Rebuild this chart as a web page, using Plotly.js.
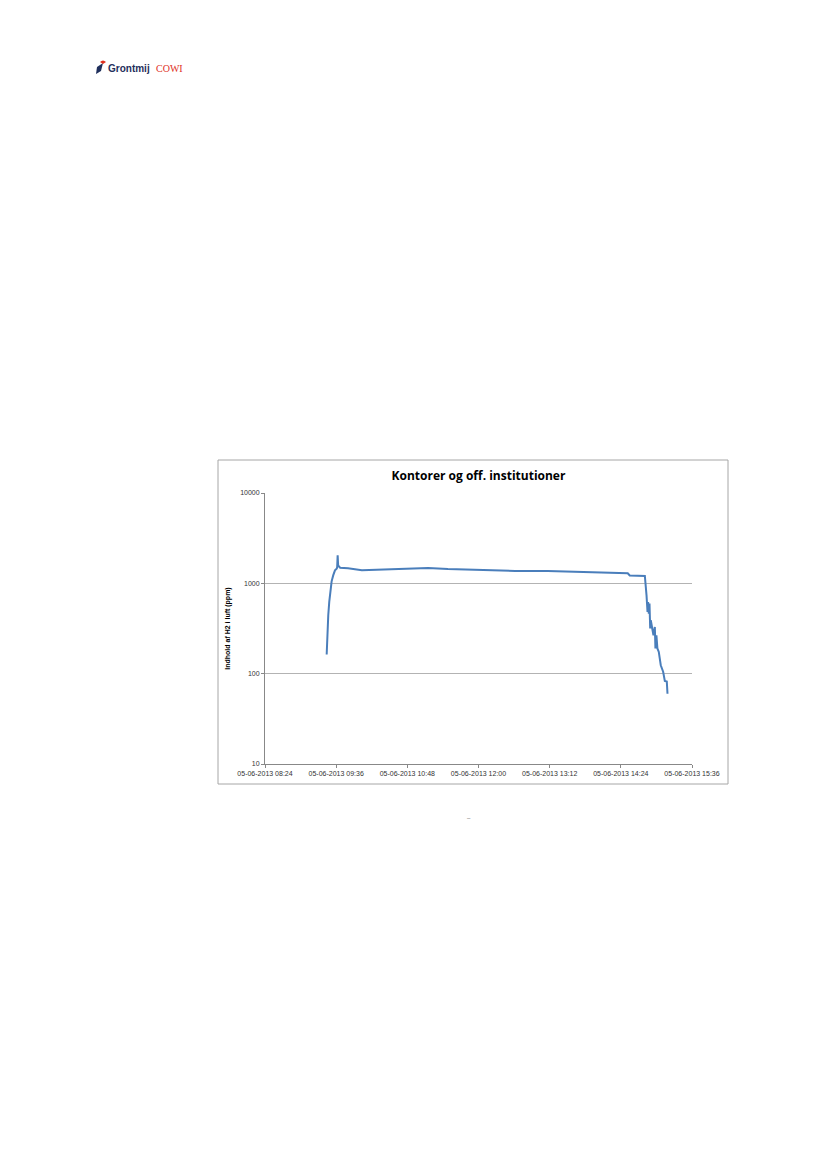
<!DOCTYPE html>
<html>
<head>
<meta charset="utf-8">
<script src="https://cdn.plot.ly/plotly-3.0.1.min.js"></script>
<style>
html,body{margin:0;padding:0;background:#fff;}
#chart{width:827px;height:1170px;}
</style>
</head>
<body>
<div id="chart"></div>
<script>
// Data
const times = [
  "2013-06-05 09:26:24","2013-06-05 09:27:00","2013-06-05 09:28:00","2013-06-05 09:29:00",
  "2013-06-05 09:30:24","2013-06-05 09:31:24","2013-06-05 09:33:00","2013-06-05 09:34:48",
  "2013-06-05 09:36:30","2013-06-05 09:37:00","2013-06-05 09:37:30","2013-06-05 09:38:00","2013-06-05 09:40:00",
  "2013-06-05 09:48:00","2013-06-05 10:02:00","2013-06-05 10:22:00","2013-06-05 10:56:00",
  "2013-06-05 11:09:00","2013-06-05 11:29:00","2013-06-05 12:03:00","2013-06-05 12:37:00",
  "2013-06-05 13:10:00","2013-06-05 13:44:00","2013-06-05 14:18:00","2013-06-05 14:31:00",
  "2013-06-05 14:33:00","2013-06-05 14:48:18","2013-06-05 14:50:00","2013-06-05 14:51:00",
  "2013-06-05 14:51:36","2013-06-05 14:52:18","2013-06-05 14:53:00","2013-06-05 14:53:42",
  "2013-06-05 14:54:18","2013-06-05 14:55:42","2013-06-05 14:57:00","2013-06-05 14:58:24",
  "2013-06-05 14:59:00","2013-06-05 15:00:00","2013-06-05 15:01:00","2013-06-05 15:02:24",
  "2013-06-05 15:04:24","2013-06-05 15:06:48","2013-06-05 15:08:30","2013-06-05 15:10:30",
  "2013-06-05 15:11:12"
];
const h2ppm = [
  163, 316, 443, 622,
  871, 1052, 1225, 1392,
  1452, 1500, 2040, 1581, 1490,
  1470, 1400, 1420, 1452,
  1480, 1440, 1392, 1370,
  1370, 1334, 1313, 1290,
  1220, 1205, 736, 482,
  622, 462, 596, 316,
  390, 316, 266, 329,
  190, 266, 190, 174,
  124, 105, 83, 82,
  60
];
const tickTimes = [
  "2013-06-05 08:24","2013-06-05 09:36","2013-06-05 10:48","2013-06-05 12:00",
  "2013-06-05 13:12","2013-06-05 14:24","2013-06-05 15:36"
];
const tickLabels = [
  "05-06-2013 08:24","05-06-2013 09:36","05-06-2013 10:48","05-06-2013 12:00",
  "05-06-2013 13:12","05-06-2013 14:24","05-06-2013 15:36"
];
const yTicks = [10, 100, 1000, 10000];
const yTickLabels = ["10", "100", "1000", "10000"];

const trace = {
  x: times, y: h2ppm, type: 'scatter', mode: 'lines',
  line: {color: '#4a7ebb', width: 2},
  hoverinfo: 'skip'
};

const plotL = 265, plotR = 692, plotT = 493, plotB = 764;
const W = 827, H = 1170;
const pw = plotR - plotL, ph = plotB - plotT;
const px = v => (v - plotL) / pw;
const py = v => (plotB - v) / ph;

const layout = {
  width: W, height: H,
  margin: {l: plotL, r: W - plotR, t: plotT, b: H - plotB, pad: 0},
  paper_bgcolor: '#ffffff', plot_bgcolor: '#ffffff',
  showlegend: false,
  font: {family: 'Liberation Sans, Arial, sans-serif', color: '#333'},
  title: {
    text: '<b>Kontorer og off. institutioner</b>',
    font: {family: 'Open Sans, Liberation Sans, sans-serif', size: 12, color: '#000'},
    x: 0.5, xref: 'paper', xanchor: 'center',
    y: 1 - 476/H, yref: 'container', yanchor: 'middle'
  },
  xaxis: {
    type: 'date',
    range: [tickTimes[0], tickTimes[tickTimes.length - 1]],
    tickmode: 'array', tickvals: tickTimes, ticktext: tickLabels,
    tickfont: {size: 7, color: '#333'},
    ticks: 'outside', ticklen: 3, tickcolor: '#888', tickwidth: 1,
    showline: true, linecolor: '#888', linewidth: 1,
    showgrid: false, zeroline: false, fixedrange: true
  },
  yaxis: {
    type: 'log', range: [1, 4],
    tickmode: 'array', tickvals: yTicks, ticktext: yTickLabels,
    tickfont: {size: 7, color: '#333'},
    ticks: 'outside', ticklen: 3, tickcolor: '#888', tickwidth: 1,
    showline: true, linecolor: '#888', linewidth: 1,
    showgrid: true, gridcolor: '#b3b3b3', gridwidth: 1,
    zeroline: false, fixedrange: true,
    title: {
      text: '<b>Indhold af H2 i luft (ppm)</b>',
      font: {size: 7, color: '#000'}, standoff: 8
    }
  },
  shapes: [
    {type: 'rect', xref: 'paper', yref: 'paper',
     x0: px(218), x1: px(728), y0: py(784), y1: py(460),
     line: {color: '#a6a6a6', width: 1}, fillcolor: 'rgba(0,0,0,0)', layer: 'below'},
    // small logo mark
    {type: 'path', xref: 'paper', yref: 'paper',
     path: `M ${px(97)},${py(67)} L ${px(103)},${py(63)} L ${px(101)},${py(71)} L ${px(96)},${py(74)} Z`,
     fillcolor: '#1f2f5c', line: {width: 0}},
    {type: 'path', xref: 'paper', yref: 'paper',
     path: `M ${px(100)},${py(62)} Q ${px(103)},${py(59)} ${px(106)},${py(62)} L ${px(103)},${py(64)} Z`,
     fillcolor: '#e0301e', line: {width: 0}}
  ],
  annotations: [
    {text: '<b>Grontmij</b>', xref: 'paper', yref: 'paper', x: px(106), y: py(68),
     xanchor: 'left', yanchor: 'middle', showarrow: false,
     font: {family: 'Liberation Sans, sans-serif', size: 10, color: '#1f2f5c'}},
    {text: 'COWI', xref: 'paper', yref: 'paper', x: px(154), y: py(68),
     xanchor: 'left', yanchor: 'middle', showarrow: false,
     font: {family: 'Liberation Serif, serif', size: 10, color: '#e0301e'}},
    {text: '–', xref: 'paper', yref: 'paper', x: px(469), y: py(818),
     xanchor: 'center', yanchor: 'middle', showarrow: false,
     font: {size: 6, color: '#555'}}
  ]
};

Plotly.newPlot('chart', [trace], layout, {displayModeBar: false, staticPlot: true});
</script>
</body>
</html>
